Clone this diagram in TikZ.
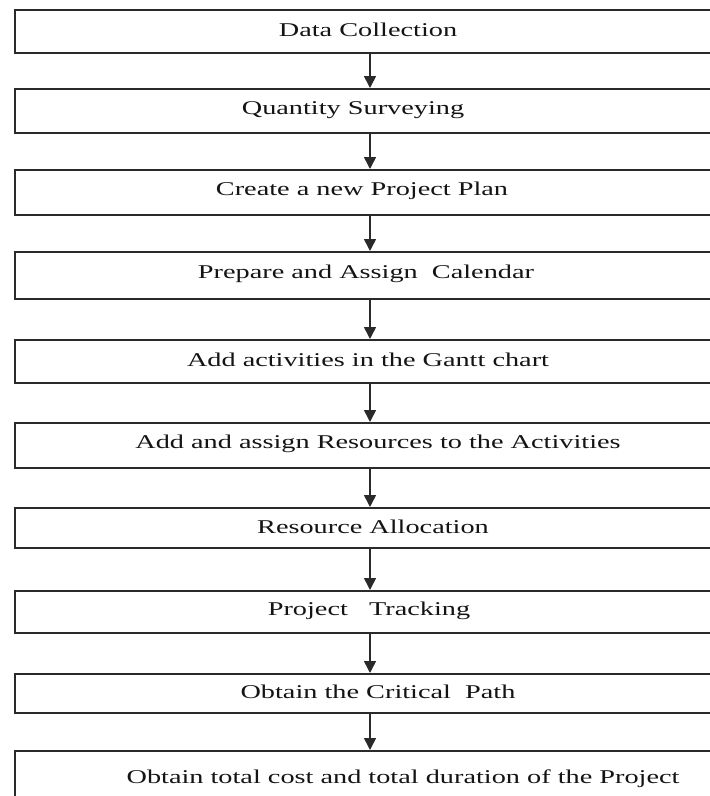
\documentclass[tikz,border=0pt]{standalone}
\usepackage{fontspec}
\setmainfont{Liberation Serif}[FakeStretch=1.45]
\usetikzlibrary{arrows.meta}
\definecolor{ln}{HTML}{2A2A2A}
\begin{document}
\begin{tikzpicture}[x=1pt,y=-1pt,
  box/.style={draw=ln,line width=2pt,rectangle,inner sep=0pt,minimum width=697pt},
  lbl/.style={inner sep=0pt,font=\fontsize{19.5}{22}\selectfont,text=black!92},
  arr/.style={draw=ln,line width=1.6pt,-{Triangle[width=12pt,length=12pt]}}]
\useasboundingbox (0,0) rectangle (710,796);
\clip (0,0) rectangle (710,796);
\fill[white] (0,0) rectangle (710,796);
\coordinate (ax) at (370,0);
\node[box,minimum height=43pt] (b1) at (363,31.5) {};
\node[box,minimum height=44pt] (b2) at (363,111) {};
\node[box,minimum height=45pt] (b3) at (363,192.5) {};
\node[box,minimum height=47pt] (b4) at (363,275.5) {};
\node[box,minimum height=43pt] (b5) at (363,361.5) {};
\node[box,minimum height=45pt] (b6) at (363,445.5) {};
\node[box,minimum height=40pt] (b7) at (363,528) {};
\node[box,minimum height=42pt] (b8) at (363,612) {};
\node[box,minimum height=39pt] (b9) at (363,693.5) {};
\node[box,minimum height=59pt] (b10) at (363,780.5) {};
\node[lbl] (t1) at (368,30) {Data Collection};
\node[lbl] (t2) at (353,110) {Quantity Surveying};
\node[lbl] (t3) at (362,191) {Create a new Project Plan};
\node[lbl] (t4) at (366,274) {Prepare and Assign\ \ Calendar};
\node[lbl] (t5) at (368,360) {Add activities in the Gantt chart};
\node[lbl] (t6) at (378,444) {Add and assign Resources to the Activities};
\node[lbl] (t7) at (373,527) {Resource Allocation};
\node[lbl] (t8) at (369,611) {Project\ \ \ Tracking};
\node[lbl] (t9) at (378,692) {Obtain the Critical\ \ Path};
\node[lbl] (t10) at (403,779) {Obtain total cost and total duration of the Project};
\foreach \a/\b in {b1/b2,b2/b3,b3/b4,b4/b5,b5/b6,b6/b7,b7/b8,b8/b9,b9/b10}
  \draw[arr] (\a.south -| ax) -- (\b.north -| ax);
\end{tikzpicture}
\end{document}
